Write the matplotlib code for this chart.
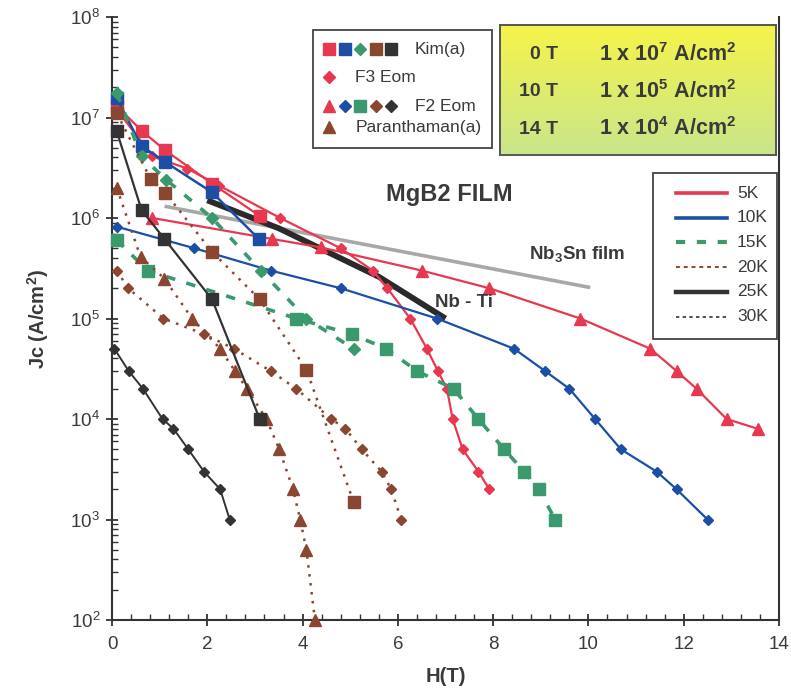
import matplotlib

matplotlib.use("Agg")
import matplotlib.pyplot as plt
import numpy as np
from matplotlib.colors import LinearSegmentedColormap
from matplotlib.patches import Rectangle
from matplotlib.ticker import LogLocator, MultipleLocator, NullFormatter

plt.rcParams["font.family"] = ["Liberation Sans", "DejaVu Sans"]
plt.rcParams["mathtext.fontset"] = "custom"
plt.rcParams["mathtext.rm"] = "Liberation Sans"
plt.rcParams["mathtext.bf"] = "Liberation Sans:bold"

RED, BLUE, GREEN, BROWN, DARK = "#e8384f", "#1d4ea6", "#3a9a6e", "#8a4630", "#333333"
TXT = "#3a3a3a"

# --- 5K ---
kim5_h = [0.1, 0.62, 1.12, 2.1, 3.1]
kim5_jc = [1.3e7, 7.4e6, 4.7e6, 2.2e6, 1.05e6]
f3_5_h = [0.1, 0.85, 1.58, 2.25, 3.53, 4.8, 5.47, 5.78, 6.26, 6.61, 6.84, 7.03, 7.15, 7.36, 7.69, 7.92]
f3_5_jc = [1.2e7, 4.1e6, 3.1e6, 2.1e6, 1.0e6, 5e5, 3e5, 2e5, 1e5, 5e4, 3e4, 2e4, 1e4, 5e3, 3e3, 2e3]
f2_5_h = [0.85, 3.35, 4.38, 6.5, 7.92, 9.83, 11.3, 11.85, 12.27, 12.9, 13.55]
f2_5_jc = [1e6, 6.2e5, 5.1e5, 3e5, 2e5, 1e5, 5e4, 3e4, 2e4, 1e4, 8e3]
# --- 10K ---
kim10_h = [0.1, 0.62, 1.12, 2.1, 3.08]
kim10_jc = [1.55e7, 5.2e6, 3.6e6, 1.8e6, 6.2e5]
f2_10_h = [0.1, 1.73, 3.33, 4.8, 6.82, 8.44, 9.09, 9.6, 10.14, 10.68, 11.43, 11.85, 12.5]
f2_10_jc = [8.2e5, 5e5, 3e5, 2e5, 1e5, 5e4, 3e4, 2e4, 1e4, 5e3, 3e3, 2e3, 1e3]
# --- 15K ---
kim15_h = [0.1, 0.62, 1.14, 2.1, 3.12, 4.08, 5.07]
kim15_jc = [1.75e7, 4.1e6, 2.4e6, 1.0e6, 3e5, 1e5, 5e4]
f2_15_h = [0.1, 0.75, 3.87, 5.03, 5.76, 6.4, 7.17, 7.69, 8.23, 8.65, 8.96, 9.3]
f2_15_jc = [6e5, 3e5, 1e5, 7e4, 5e4, 3e4, 2e4, 1e4, 5e3, 3e3, 2e3, 1e3]
# --- 20K ---
kim20_h = [0.1, 0.81, 1.12, 2.1, 3.1, 4.08, 5.07]
kim20_jc = [1.1e7, 2.45e6, 1.78e6, 4.6e5, 1.55e5, 3.1e4, 1.5e3]
par20_h = [0.1, 0.6, 1.1, 1.68, 2.27, 2.58, 2.83, 3.24, 3.51, 3.8, 3.95, 4.08, 4.26]
par20_jc = [2e6, 4.1e5, 2.5e5, 1e5, 5e4, 3e4, 2e4, 1e4, 5e3, 2e3, 1e3, 5e2, 1e2]
f2_20_h = [0.1, 0.34, 1.08, 1.93, 2.56, 3.33, 3.87, 4.6, 4.9, 5.24, 5.66, 5.86, 6.07]
f2_20_jc = [3e5, 2e5, 1e5, 7e4, 5e4, 3e4, 2e4, 1e4, 8e3, 5e3, 3e3, 2e3, 1e3]
# --- 25K / 30K ---
kim25_h = [0.1, 0.62, 1.1, 2.1, 3.1]
kim25_jc = [7.3e6, 1.2e6, 6.2e5, 1.55e5, 1e4]
f2_30_h = [0.05, 0.35, 0.65, 1.06, 1.29, 1.6, 1.93, 2.27, 2.47]
f2_30_jc = [5e4, 3e4, 2e4, 1e4, 8e3, 5e3, 3e3, 2e3, 1e3]
# --- reference conductors ---
nbti_h = [2.0, 3.5, 5.6, 7.0]
nbti_jc = [1.5e6, 7.9e5, 2.6e5, 1.0e5]
nb3sn_h = [1.14, 10.0]
nb3sn_jc = [1.3e6, 2.05e5]

box_fields = ["0 T", "10 T", "14 T"]
box_exps = [7, 5, 4]
temp_labels = ["5K", "10K", "15K", "20K", "25K", "30K"]
source_labels = ["Kim(a)", "F3 Eom", "F2 Eom", "Paranthaman(a)"]

GDASH = (0, (2.6, 3.2))
BDOT = (0, (1, 2.6))

W, H = 791, 694
fig = plt.figure(figsize=(W / 100, H / 100), dpi=100)
ax = fig.add_axes([112 / W, 74 / H, 667 / W, 603 / H])
ax.set_yscale("log")
ax.set_xlim(0, 14)
ax.set_ylim(1e2, 1e8)

ax.plot(nb3sn_h, nb3sn_jc, color="#a8a8a8", lw=2.6, zorder=2)
ax.plot(nbti_h, nbti_jc, color="#2a2a2a", lw=4.2, solid_capstyle="butt", zorder=2)

series = [
    (kim5_h, kim5_jc, RED, "-", 1.6, "s", 8.5),
    (f3_5_h, f3_5_jc, RED, "-", 1.6, "D", 5.5),
    (f2_5_h, f2_5_jc, RED, "-", 1.6, "^", 8),
    (kim10_h, kim10_jc, BLUE, "-", 1.8, "s", 8.5),
    (f2_10_h, f2_10_jc, BLUE, "-", 1.6, "D", 5.5),
    (kim15_h, kim15_jc, GREEN, GDASH, 2.6, "D", 6),
    (f2_15_h, f2_15_jc, GREEN, GDASH, 2.6, "s", 8),
    (kim20_h, kim20_jc, BROWN, BDOT, 1.8, "s", 8.5),
    (par20_h, par20_jc, BROWN, BDOT, 1.8, "^", 8),
    (f2_20_h, f2_20_jc, BROWN, BDOT, 1.8, "D", 5.5),
    (kim25_h, kim25_jc, DARK, "-", 1.6, "s", 8.5),
    (f2_30_h, f2_30_jc, DARK, "-", 1.4, "D", 5.5),
]
for h, jc, c, ls, lw, mk, ms in series:
    ax.plot(h, jc, color=c, ls=ls, lw=lw, marker=mk, ms=ms, mec=c, mfc=c,
            clip_on=False, zorder=3)

# axes styling
for side in ("left", "bottom", "right"):
    ax.spines[side].set_color("#333333")
    ax.spines[side].set_linewidth(1.5)
ax.spines["top"].set_visible(False)
ax.xaxis.set_major_locator(MultipleLocator(2))
ax.xaxis.set_minor_locator(MultipleLocator(0.4))
ax.yaxis.set_major_locator(LogLocator(base=10, numticks=10))
ax.yaxis.set_minor_locator(LogLocator(base=10, subs=np.arange(2, 10), numticks=20))
ax.yaxis.set_minor_formatter(NullFormatter())
ax.tick_params(which="major", direction="inout", length=9, width=1.3,
               colors="#333333", labelcolor=TXT, labelsize=13.5, pad=4)
ax.tick_params(which="minor", direction="in", length=4, width=1.0, colors="#333333")
ax.tick_params(axis="y", which="both", right=False)
ax.tick_params(axis="x", pad=7)

ax.set_xlabel("H(T)", fontsize=14.5, fontweight="bold", color=TXT, labelpad=10)
ax.set_ylabel("Jc (A/cm$^{\\mathbf{2}}$)", fontsize=14.5, fontweight="bold", color=TXT,
              labelpad=14)

ax.text(0.505, 0.705, "MgB2 FILM", transform=ax.transAxes, ha="center", va="center",
        fontsize=17, fontweight="bold", color=TXT)
ax.text(0.698, 0.605, "Nb$_{\\mathbf{3}}$Sn film", transform=ax.transAxes, ha="center",
        va="center", fontsize=13.5, fontweight="bold", color=TXT)
ax.text(0.528, 0.527, "Nb - Ti", transform=ax.transAxes, ha="center", va="center",
        fontsize=13.5, fontweight="bold", color=TXT)

# yellow summary box
bx = fig.add_axes([500 / W, 1 - 155 / H, 276 / W, 130 / H])
grad = np.linspace(0, 1, 100).reshape(-1, 1)
cmap = LinearSegmentedColormap.from_list("yg", ["#f6f34a", "#c9e68c"])
bx.imshow(grad, aspect="auto", cmap=cmap, extent=[0, 1, 0, 1], origin="upper")
bx.set_xticks([])
bx.set_yticks([])
for s in bx.spines.values():
    s.set_color("#555555")
    s.set_linewidth(1.4)
for i, (fld, ex) in enumerate(zip(box_fields, box_exps)):
    yy = 0.77 - i * 0.285
    bx.text(0.21, yy, fld, ha="right", va="center", fontsize=14, fontweight="bold",
            color=TXT, transform=bx.transAxes)
    bx.text(0.36, yy, "1 x 10$^{\\mathbf{%d}}$ A/cm$^{\\mathbf{2}}$" % ex, ha="left",
            va="center", fontsize=15.5, fontweight="bold", color=TXT, transform=bx.transAxes)

# legends drawn on a pixel-coordinate overlay
ov = fig.add_axes([0, 0, 1, 1], zorder=5)
ov.set_xlim(0, W)
ov.set_ylim(H, 0)
ov.axis("off")
ov.patch.set_alpha(0)

ov.add_patch(Rectangle((313, 30), 179, 118, fc="white", ec="#444444", lw=1.3))
rows = [
    (49, 415, [(RED, "s", 8.5), (BLUE, "s", 8.5), (GREEN, "D", 6.5), (BROWN, "s", 8.5), (DARK, "s", 8.5)]),
    (77, 355, [(RED, "D", 6.5)]),
    (106, 415, [(RED, "^", 9), (BLUE, "D", 6.5), (GREEN, "s", 8.5), (BROWN, "D", 6.5), (DARK, "D", 6.5)]),
    (127, 356, [(BROWN, "^", 9)]),
]
for (y, tx, marks), lab in zip(rows, source_labels):
    for j, (c, m, ms) in enumerate(marks):
        ov.plot([329 + j * 15.5], [y], ls="none", marker=m, color=c, mec=c, ms=ms)
    ov.text(tx, y, lab, ha="left", va="center", fontsize=12.5, color=TXT)

ov.add_patch(Rectangle((653, 173), 124, 166, fc="white", ec="#444444", lw=1.3))
temp_styles = [
    (RED, "-", 2.6), (BLUE, "-", 2.6), (GREEN, (0, (2.2, 2.8)), 3),
    (BROWN, (0, (2, 2)), 1.4), (DARK, "-", 3.2), (DARK, (0, (2, 2)), 1.2),
]
for i, ((c, ls, lw), lab) in enumerate(zip(temp_styles, temp_labels)):
    y = 193 + i * 24.7
    ov.plot([676, 727], [y, y], color=c, ls=ls, lw=lw)
    ov.text(737, y, lab, ha="left", va="center", fontsize=12.5, color=TXT)

fig.savefig("out.png", dpi=100)
